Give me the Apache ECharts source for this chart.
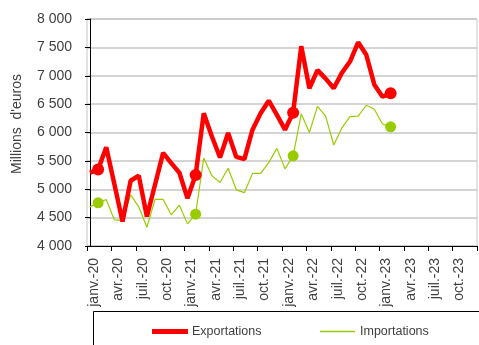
<!DOCTYPE html>
<html><head><meta charset="utf-8">
<script src="https://cdn.jsdelivr.net/npm/echarts@6/dist/echarts.min.js"></script>
<style>html,body{margin:0;padding:0;background:#fff}#c{width:479px;height:345px}</style>
</head><body><div id="c"></div>
<script>
// Months jan-20 .. jan-24 (axis), data jan-20 .. feb-23
const monthNames = ['janv.','févr.','mars','avr.','mai','juin','juil.','août','sept.','oct.','nov.','déc.'];
const years = ['20','21','22','23','24'];
const categories = [];
for (const y of years) for (const m of monthNames) { if (categories.length < 49) categories.push(m + '-' + y); }
const exportations = [5290,5350,5740,5090,4430,5150,5240,4520,5080,5640,5460,5290,
  4840,5250,6340,5930,5560,5990,5570,5530,6050,6340,6560,6310,
  6050,6350,7520,6780,7100,6950,6780,7050,7250,7590,7370,6840,
  6630,6690];
const importations = [4690,4760,4820,4460,4450,4900,4690,4330,4820,4820,4550,4720,
  4390,4560,5550,5240,5120,5370,4990,4940,5280,5280,5470,5720,
  5360,5590,6330,6000,6460,6290,5780,6080,6280,6290,6480,6410,
  6150,6100];
const markerIdx = [1,13,25,37];
const yTicks = [4000,4500,5000,5500,6000,6500,7000,7500,8000];

const FONT = '"Liberation Sans", Arial, sans-serif';
function fmt(v){ return String(v).replace(/\B(?=(\d{3})+(?!\d))/g,' '); }
function pts(arr, size){
  return arr.map((v,i)=> markerIdx.includes(i) ? {value:[i,v], symbol:'circle', symbolSize:size} : {value:[i,v], symbol:'none'});
}
const SHIFT = 0.37; // points sit slightly after the month tick, as in the reference
const chart = echarts.init(document.getElementById('c'));
chart.setOption({
  animation:false,
  backgroundColor:'#fff',
  grid:{left:87,right:2,top:19,bottom:99,show:true,borderColor:'#c6c6c6',borderWidth:1},
  xAxis:[{type:'category',data:categories,boundaryGap:false,
    axisLine:{lineStyle:{color:'#000',width:1}},
    axisTick:{show:true,interval:2,length:5,lineStyle:{color:'#000'}},
    axisLabel:{interval:2,rotate:90,margin:12,fontFamily:FONT,fontSize:14,color:'#404040',verticalAlign:'top',
      formatter:(v,i)=> i===categories.length-1 ? '' : v},
    splitLine:{show:false}},
    {type:'value',show:false,min:-SHIFT,max:categories.length-1-SHIFT,position:'bottom',splitLine:{show:false}}],
  yAxis:{type:'value',min:yTicks[0],max:yTicks[yTicks.length-1],interval:500,
    axisLine:{show:true,lineStyle:{color:'#000',width:1}},
    axisTick:{show:true,length:5,lineStyle:{color:'#000'}},
    axisLabel:{margin:15,fontFamily:FONT,fontSize:14,color:'#404040',formatter:fmt},
    splitLine:{lineStyle:{color:'#c6c6c6',width:1.5}}},
  legend:[
    {data:['Exportations'],left:152,top:325,padding:0,icon:'rect',itemWidth:36,itemHeight:5,itemGap:0,
      textStyle:{fontFamily:FONT,fontSize:12.5,color:'#404040',padding:[0,0,0,-1]}},
    {data:['Importations'],left:320,top:325,padding:0,icon:'rect',itemWidth:35,itemHeight:1.3,itemGap:0,
      textStyle:{fontFamily:FONT,fontSize:12.5,color:'#404040',padding:[0,0,0,0]}}
  ],
  graphic:[
    {type:'rect',left:91,top:309,shape:{x:0,y:0,width:400,height:60},style:{fill:'none',stroke:'#000',lineWidth:1},z:-1},
    {type:'text',x:17,y:124,rotation:Math.PI/2,style:{text:"Millions  d'euros",font:'14px '+FONT,fill:'#404040',align:'center',verticalAlign:'middle'}}
  ],
  series:[
    {name:'Importations',type:'line',xAxisIndex:1,data:pts(importations,11),showAllSymbol:true,color:'#99cc00',
      lineStyle:{color:'#99cc00',width:1.2},itemStyle:{color:'#99cc00'},z:2},
    {name:'Exportations',type:'line',xAxisIndex:1,data:pts(exportations,12),showAllSymbol:true,color:'#ff0000',
      lineStyle:{color:'#ff0000',width:4.5},itemStyle:{color:'#ff0000'},z:3}
  ]
});
</script></body></html>
